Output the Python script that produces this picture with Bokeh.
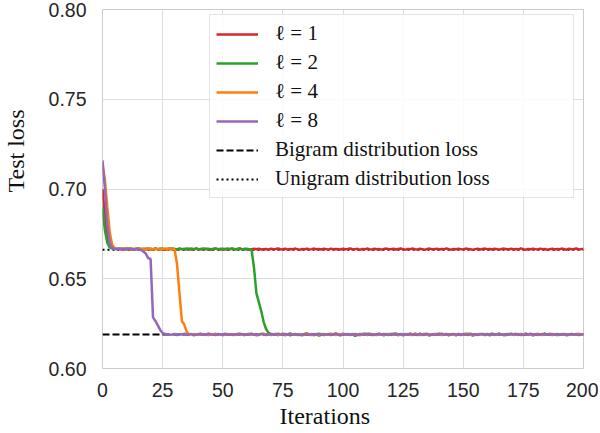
import math
from bokeh.plotting import figure
from bokeh.models import (Range1d, FixedTicker, PrintfTickFormatter, Legend,
                          LegendItem, Title, LinearAxis)
from bokeh.embed import file_html
from bokeh.resources import INLINE

# ---------------- data ----------------
x_ticks = [0, 25, 50, 75, 100, 125, 150, 175, 200]
y_ticks = [0.60, 0.65, 0.70, 0.75, 0.80]
series_labels = ["ℓ = 1", "ℓ = 2", "ℓ = 4", "ℓ = 8"]
series_colors = ["#d62728", "#2ca02c", "#ff7f0e", "#9467bd"]

bigram_loss = 0.6190
unigram_loss = 0.6662

loss_l1 = [0.7000, 0.6850, 0.6730, 0.6685, 0.6670,
    0.6667, 0.6664, 0.6668, 0.6663, 0.6666, 0.6669, 0.6664, 0.6665, 0.6661, 0.6666, 0.6668, 0.6663, 0.6665, 0.6667,
    0.6662, 0.6666, 0.6664, 0.6669, 0.6665, 0.6663, 0.6667, 0.6661, 0.6665, 0.6668, 0.6664, 0.6666, 0.6662, 0.6667,
    0.6665, 0.6663, 0.6668, 0.6666, 0.6662, 0.6665, 0.6669, 0.6664, 0.6666, 0.6663, 0.6667, 0.6665, 0.6661, 0.6666,
    0.6668, 0.6664, 0.6663, 0.6667, 0.6665, 0.6662, 0.6666, 0.6668, 0.6664, 0.6665, 0.6669, 0.6663, 0.6666, 0.6664,
    0.6661, 0.6665, 0.6667, 0.6664, 0.6668, 0.6663, 0.6665, 0.6666, 0.6662, 0.6667, 0.6664, 0.6666, 0.6669, 0.6663,
    0.6665, 0.6667, 0.6662, 0.6666, 0.6664, 0.6668, 0.6665, 0.6661, 0.6666, 0.6664, 0.6667, 0.6663, 0.6665, 0.6668,
    0.6664, 0.6666, 0.6663, 0.6667, 0.6665, 0.6662, 0.6668, 0.6664, 0.6666, 0.6665, 0.6663, 0.6667, 0.6664, 0.6666,
    0.6669, 0.6663, 0.6665, 0.6667, 0.6661, 0.6666, 0.6664, 0.6668, 0.6665, 0.6663, 0.6667, 0.6664, 0.6666, 0.6662,
    0.6666, 0.6668, 0.6664, 0.6665, 0.6667, 0.6663, 0.6666, 0.6669, 0.6664, 0.6662, 0.6666, 0.6665, 0.6668, 0.6664,
    0.6663, 0.6667, 0.6665, 0.6661, 0.6666, 0.6668, 0.6664, 0.6665, 0.6667, 0.6663, 0.6666, 0.6664, 0.6669, 0.6665,
    0.6662, 0.6666, 0.6664, 0.6667, 0.6665, 0.6663, 0.6668, 0.6666, 0.6664, 0.6661, 0.6665, 0.6667, 0.6663, 0.6666,
    0.6668, 0.6664, 0.6666, 0.6663, 0.6667, 0.6665, 0.6662, 0.6666, 0.6668, 0.6664, 0.6665, 0.6667, 0.6663, 0.6666,
    0.6664, 0.6669, 0.6665, 0.6662, 0.6666, 0.6664, 0.6667, 0.6665, 0.6663, 0.6668, 0.6664, 0.6666, 0.6661, 0.6665,
    0.6667, 0.6663, 0.6666, 0.6664, 0.6668, 0.6665, 0.6662, 0.6667, 0.6664, 0.6666, 0.6669, 0.6663, 0.6665, 0.6667]

loss_l2 = [0.6900, 0.6770, 0.6700, 0.6675,
    0.6670, 0.6668, 0.6667, 0.6665, 0.6668, 0.6666, 0.6664, 0.6667, 0.6669, 0.6665, 0.6666, 0.6668, 0.6664, 0.6667,
    0.6665, 0.6669, 0.6666, 0.6663, 0.6667, 0.6665, 0.6668, 0.6666, 0.6664, 0.6667, 0.6665, 0.6669, 0.6666, 0.6664,
    0.6668, 0.6665, 0.6667, 0.6663, 0.6666, 0.6668, 0.6665, 0.6667, 0.6664, 0.6666, 0.6669, 0.6665, 0.6667, 0.6664,
    0.6666, 0.6668, 0.6665, 0.6667, 0.6663, 0.6666, 0.6668, 0.6665, 0.6667, 0.6664, 0.6666, 0.6668, 0.6665, 0.6666,
    0.6667, 0.6665,
    0.6660, 0.6560, 0.6420, 0.6370, 0.6320, 0.6260, 0.6220, 0.6200, 0.6192,
    0.6189, 0.6192, 0.6186, 0.6190, 0.6194, 0.6187, 0.6191, 0.6185, 0.6189, 0.6193, 0.6188, 0.6190, 0.6184, 0.6191,
    0.6195, 0.6189, 0.6186, 0.6192, 0.6190, 0.6183, 0.6188, 0.6193, 0.6189, 0.6191, 0.6186, 0.6190, 0.6194, 0.6188,
    0.6185, 0.6191, 0.6189, 0.6193, 0.6187, 0.6190, 0.6182, 0.6188, 0.6192, 0.6189, 0.6195, 0.6187, 0.6190, 0.6186,
    0.6191, 0.6188, 0.6194, 0.6189, 0.6185, 0.6190, 0.6192, 0.6187, 0.6191, 0.6196, 0.6188, 0.6190, 0.6185, 0.6192,
    0.6189, 0.6193, 0.6186, 0.6190, 0.6188, 0.6194, 0.6187, 0.6191, 0.6189, 0.6184, 0.6190, 0.6192, 0.6188, 0.6195,
    0.6187, 0.6190, 0.6193, 0.6186, 0.6191, 0.6189, 0.6185, 0.6192, 0.6188, 0.6190, 0.6194, 0.6187, 0.6189, 0.6183,
    0.6191, 0.6188, 0.6193, 0.6190, 0.6186, 0.6192, 0.6189, 0.6195, 0.6187, 0.6190, 0.6188, 0.6191, 0.6185, 0.6192,
    0.6189, 0.6194, 0.6187, 0.6190, 0.6192, 0.6186, 0.6189, 0.6193, 0.6188, 0.6191, 0.6184, 0.6190, 0.6192, 0.6187,
    0.6190, 0.6195, 0.6188, 0.6191, 0.6186, 0.6189, 0.6193, 0.6187, 0.6190, 0.6192, 0.6185, 0.6189, 0.6191, 0.6188,
    0.6193, 0.6187, 0.6190, 0.6189]

loss_l4 = [0.7140, 0.7050, 0.6900, 0.6760, 0.6690, 0.6672,
    0.6668, 0.6666, 0.6664, 0.6667, 0.6665, 0.6669, 0.6663, 0.6666, 0.6668, 0.6664, 0.6667, 0.6665, 0.6662, 0.6666,
    0.6668, 0.6664, 0.6667, 0.6665, 0.6663, 0.6666, 0.6668, 0.6664, 0.6666, 0.6665, 0.6663,
    0.6580, 0.6420, 0.6265, 0.6245, 0.6205, 0.6192,
    0.6190, 0.6193, 0.6187, 0.6191, 0.6195, 0.6188, 0.6190, 0.6186, 0.6192, 0.6189, 0.6194, 0.6187, 0.6191, 0.6185,
    0.6190, 0.6193, 0.6188, 0.6192, 0.6186, 0.6190, 0.6196, 0.6189, 0.6187, 0.6191, 0.6193, 0.6188, 0.6190, 0.6184,
    0.6189, 0.6192, 0.6195, 0.6188, 0.6191, 0.6186, 0.6190, 0.6193, 0.6187, 0.6189, 0.6192, 0.6185, 0.6191, 0.6194,
    0.6188, 0.6190, 0.6186, 0.6193, 0.6189, 0.6191, 0.6197, 0.6188, 0.6190, 0.6185, 0.6192, 0.6189, 0.6193, 0.6187,
    0.6191, 0.6188, 0.6194, 0.6190, 0.6186, 0.6192, 0.6189, 0.6195, 0.6188, 0.6190, 0.6187, 0.6193, 0.6189, 0.6191,
    0.6185, 0.6190, 0.6192, 0.6188, 0.6196, 0.6189, 0.6191, 0.6186, 0.6193, 0.6190, 0.6188, 0.6192, 0.6187, 0.6194,
    0.6189, 0.6191, 0.6185, 0.6190, 0.6193, 0.6188, 0.6192, 0.6186, 0.6190, 0.6195, 0.6189, 0.6187, 0.6191, 0.6193,
    0.6188, 0.6190, 0.6186, 0.6192, 0.6189, 0.6194, 0.6187, 0.6191, 0.6190, 0.6185, 0.6193, 0.6188, 0.6190, 0.6192,
    0.6187, 0.6191, 0.6189, 0.6195, 0.6188, 0.6190, 0.6186, 0.6192, 0.6189, 0.6193, 0.6187, 0.6191, 0.6184, 0.6190,
    0.6192, 0.6188, 0.6194, 0.6189, 0.6191, 0.6186, 0.6190, 0.6193, 0.6188, 0.6191, 0.6187, 0.6192, 0.6189, 0.6196,
    0.6188, 0.6190, 0.6185, 0.6191, 0.6193, 0.6189, 0.6187, 0.6192, 0.6190, 0.6194, 0.6188, 0.6191, 0.6186, 0.6190,
    0.6193, 0.6189, 0.6191, 0.6187, 0.6192, 0.6190, 0.6188, 0.6194, 0.6189, 0.6191]

loss_l8 = [0.7160, 0.7000, 0.6800, 0.6700, 0.6672,
    0.6667, 0.6665, 0.6668, 0.6664, 0.6666, 0.6663, 0.6667, 0.6665, 0.6664, 0.6666, 0.6663,
    0.6660, 0.6652, 0.6640, 0.6615, 0.6610, 0.6285, 0.6265, 0.6240, 0.6215, 0.6198, 0.6192,
    0.6191, 0.6188, 0.6190, 0.6193, 0.6186, 0.6191, 0.6189, 0.6194, 0.6187, 0.6190, 0.6192, 0.6185, 0.6189, 0.6193,
    0.6188, 0.6191, 0.6187, 0.6195, 0.6189, 0.6190, 0.6186, 0.6192, 0.6190, 0.6188, 0.6194, 0.6189, 0.6191, 0.6187,
    0.6190, 0.6193, 0.6188, 0.6192, 0.6186, 0.6190, 0.6189, 0.6195, 0.6188, 0.6191, 0.6187, 0.6193, 0.6190, 0.6186,
    0.6192, 0.6189, 0.6191, 0.6188, 0.6194, 0.6190, 0.6187, 0.6192, 0.6189, 0.6196, 0.6188, 0.6190, 0.6191, 0.6186,
    0.6189, 0.6193, 0.6190, 0.6187, 0.6192, 0.6188, 0.6191, 0.6194, 0.6189, 0.6186, 0.6190, 0.6193, 0.6188, 0.6191,
    0.6195, 0.6189, 0.6187, 0.6190, 0.6192, 0.6188, 0.6191, 0.6189, 0.6193, 0.6186, 0.6190, 0.6192, 0.6188, 0.6194,
    0.6189, 0.6191, 0.6187, 0.6190, 0.6193, 0.6188, 0.6192, 0.6189, 0.6186, 0.6191, 0.6194, 0.6188, 0.6190, 0.6192,
    0.6187, 0.6191, 0.6189, 0.6195, 0.6188, 0.6190, 0.6186, 0.6192, 0.6189, 0.6191, 0.6193, 0.6187, 0.6190, 0.6188,
    0.6192, 0.6189, 0.6194, 0.6188, 0.6191, 0.6186, 0.6190, 0.6193, 0.6189, 0.6191, 0.6187, 0.6192, 0.6188, 0.6190,
    0.6194, 0.6189, 0.6191, 0.6187, 0.6190, 0.6193, 0.6188, 0.6192, 0.6186, 0.6190, 0.6191, 0.6189, 0.6195, 0.6188,
    0.6190, 0.6187, 0.6192, 0.6189, 0.6191, 0.6193, 0.6188, 0.6190, 0.6186, 0.6192, 0.6189, 0.6194, 0.6188, 0.6191,
    0.6187, 0.6190, 0.6193, 0.6189, 0.6191, 0.6188, 0.6192, 0.6190, 0.6186, 0.6191, 0.6189, 0.6193, 0.6188, 0.6190,
    0.6192, 0.6189, 0.6191, 0.6187, 0.6190, 0.6193]

all_losses = [loss_l1, loss_l2, loss_l4, loss_l8]

# ---------------- figure ----------------
W, H = 598, 431
FL, FT, FR, FB = 101, 9, 583, 368   # frame edges in canvas pixels
p = figure(width=W, height=H, output_backend="svg", toolbar_location=None,
           x_range=Range1d(x_ticks[0], x_ticks[-1]),
           y_range=Range1d(y_ticks[0], y_ticks[-1]),
           min_border_left=FL, min_border_right=W - FR,
           min_border_top=FT, min_border_bottom=H - FB)
p.background_fill_color = "white"
p.border_fill_color = "white"
p.outline_line_color = "#cccccc"
p.outline_line_width = 1

for ax in (p.xaxis, p.yaxis):
    ax.axis_line_color = None
    ax.major_tick_line_color = None
    ax.minor_tick_line_color = None
    ax.major_label_text_font = "Liberation Sans"
    ax.major_label_text_font_size = "19.5px"
    ax.major_label_text_color = "#262626"
p.xaxis.ticker = FixedTicker(ticks=x_ticks)
p.yaxis.ticker = FixedTicker(ticks=y_ticks)
p.yaxis.formatter = PrintfTickFormatter(format="%.2f")
p.xaxis.major_label_standoff = 8
p.yaxis.major_label_standoff = 10

# invisible spacer axis (one hidden tick): pushes the y title further left
spacer = LinearAxis(ticker=FixedTicker(ticks=[y_ticks[0]]), axis_line_color=None,
                    major_tick_line_color=None, minor_tick_line_color=None,
                    major_tick_in=0, major_tick_out=17, minor_tick_out=0,
                    major_label_standoff=0, major_label_text_font_size="0px",
                    major_label_overrides={y_ticks[0]: ""})
p.add_layout(spacer, "left")

p.xgrid.ticker = FixedTicker(ticks=x_ticks)
p.ygrid.ticker = FixedTicker(ticks=y_ticks)
for g in (p.xgrid, p.ygrid):
    g.grid_line_color = "#dddddd"
    g.grid_line_width = 1

# reference loss lines (under the curves)
ref_x = [x_ticks[0], x_ticks[-1]]
r_bi = p.line(ref_x, [bigram_loss] * 2, line_color="black", line_width=2,
              line_dash="7 3")
r_uni = p.line(ref_x, [unigram_loss] * 2, line_color="black", line_width=2,
               line_dash="2 3")

items = []
for lab, col, ys in zip(series_labels, series_colors, all_losses):
    xs = list(range(len(ys)))
    r = p.line(xs, ys, line_color=col, line_width=2.5)
    items.append(LegendItem(label=lab, renderers=[r]))
items.append(LegendItem(label="Bigram distribution loss", renderers=[r_bi]))
items.append(LegendItem(label="Unigram distribution loss", renderers=[r_uni]))

legend = Legend(items=items, location=(107, 170))
legend.label_text_font = "Liberation Serif"
legend.label_text_font_size = "21px"
legend.label_text_color = "#111111"
legend.glyph_width = 42
legend.glyph_height = 20
legend.label_height = 20
legend.label_standoff = 17
legend.spacing = 4
legend.padding = 6
legend.margin = 0
legend.label_width = 292
legend.border_line_color = "#cccccc"
legend.border_line_width = 1
legend.background_fill_color = "white"
legend.background_fill_alpha = 0.85
p.add_layout(legend, "center")

# axis titles, shifted along the axis as in the reference
p.add_layout(Title(text="Test loss", align="left", offset=FB - 192, standoff=0,
                   text_font="Liberation Serif", text_font_size="24px",
                   text_font_style="normal", text_color="#111111"), "left")
p.add_layout(Title(text="Iterations", align="left", offset=278 - FL, standoff=3,
                   text_font="Liberation Serif", text_font_size="24px",
                   text_font_style="normal", text_color="#111111"), "below")

open("out.html", "w").write(file_html(p, INLINE))
